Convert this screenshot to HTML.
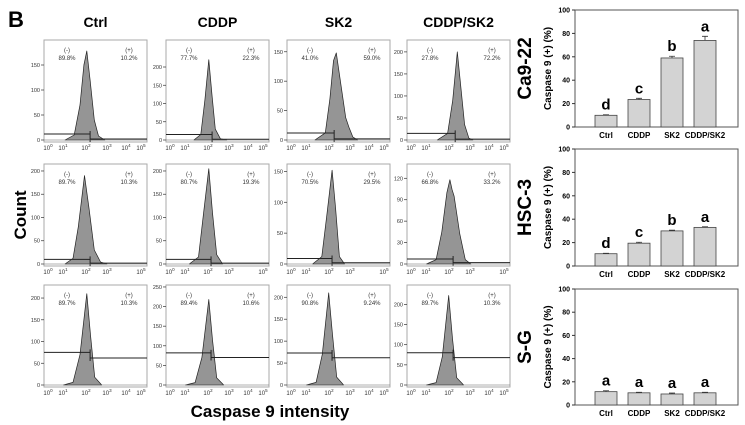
<!DOCTYPE html>
<html><head><meta charset="utf-8">
<style>
body{margin:0;background:#fff;}
svg{display:block;font-family:"Liberation Sans",sans-serif;}
</style></head>
<body>
<svg id="fig" width="745" height="425" viewBox="0 0 745 425"></svg>
<script>
// ---------- data ----------
const conditions = ["Ctrl","CDDP","SK2","CDDP/SK2"];
const cellLines = ["Ca9-22","HSC-3","S-G"];
const histYMax = [[200,274,170,227],[215,215,162,140],[230,255,228,248]];
const histTicks = [[[0,50,100,150],[0,50,100,150,200],[0,50,100,150],[0,50,100,150,200]],
 [[0,50,100,150,200],[0,50,100,150,200],[0,50,100,150],[0,30,60,90,120]],
 [[0,50,100,150,200],[0,50,100,150,200,250],[0,50,100,150,200],[0,50,100,150,200]]];
const negPct = [["89.8%","77.7%","41.0%","27.8%"],["89.7%","80.7%","70.5%","66.8%"],["89.7%","89.4%","90.8%","89.7%"]];
const posPct = [["10.2%","22.3%","59.0%","72.2%"],["10.3%","19.3%","29.5%","33.2%"],["10.3%","10.6%","9.24%","10.3%"]];
// histogram curves: [log10 intensity, count]
const histCurves = [
 [[[1.0,0],[1.4,10],[1.65,70],[1.82,150],[1.95,178],[2.1,120],[2.3,40],[2.5,8],[2.8,0]],
  [[1.3,0],[1.6,15],[1.78,110],[1.95,220],[2.1,120],[2.25,30],[2.5,3],[2.8,0]],
  [[1.3,0],[1.75,12],[1.95,70],[2.12,135],[2.25,148],[2.45,100],[2.7,38],[2.85,22],[3.05,5],[3.3,0]],
  [[1.4,0],[1.85,15],[2.08,90],[2.3,200],[2.45,130],[2.65,35],[2.85,4],[3.05,0]]],
 [[[1.0,0],[1.35,12],[1.58,80],[1.85,190],[2.05,120],[2.3,30],[2.6,4],[2.9,0]],
  [[1.1,0],[1.5,15],[1.72,110],[1.95,205],[2.12,110],[2.32,20],[2.6,0]],
  [[1.2,0],[1.6,12],[1.82,80],[2.05,152],[2.22,90],[2.4,12],[2.65,0]],
  [[0.9,0],[1.35,6],[1.6,45],[1.82,100],[1.95,118],[2.05,104],[2.15,95],[2.42,42],[2.68,6],[2.95,0]]],
 [[[0.9,0],[1.35,6],[1.65,70],[1.95,210],[2.12,115],[2.32,18],[2.65,0]],
  [[0.9,0],[1.35,6],[1.65,70],[1.95,218],[2.12,115],[2.32,18],[2.65,0]],
  [[0.9,0],[1.35,6],[1.62,70],[1.9,210],[2.07,115],[2.27,18],[2.6,0]],
  [[0.9,0],[1.35,6],[1.62,70],[1.9,222],[2.07,115],[2.27,18],[2.6,0]]]
];
const gateX = [[2.1,2.1,2.15,2.2],[2.1,2.05,2.05,2.1],[2.1,2.05,2.05,2.1]];
const gateYLeft = [[12,15,12,15],[10,10,9,7],[75,82,73,80]];
const gateYRight = [[2,2,2,2],[2,2,2,2],[62,70,62,68]];
// bar charts
const barValues = [[10,23.5,59,74],[10.5,19.5,30,33],[11.5,10.5,9.5,10.5]];
const barErrors = [[0.5,1,1.5,3.5],[0.4,0.8,0.6,0.5],[0.8,0.5,0.8,0.5]];
const barLetters = [["d","c","b","a"],["d","c","b","a"],["a","a","a","a"]];
const barTicks = [0,20,40,60,80,100];
const logTicksPos = [0,1,2,3,4,5];

// ---------- helpers ----------
const NS="http://www.w3.org/2000/svg";
const svg=document.getElementById('fig');
function mk(tag,attrs,parent,text){const e=document.createElementNS(NS,tag);for(const k in attrs)e.setAttribute(k,attrs[k]);if(text!==undefined)e.textContent=text;(parent||svg).appendChild(e);return e;}

const colX=[44,166,287,407], rowY=[40,164,285], PW=103, PH=102;
const decPx=[6,21,44,65,84,99];
function xLog(v,x0){const i=Math.max(0,Math.min(4,Math.floor(v)));const f=v-i;return x0+decPx[i]+(decPx[i+1]-decPx[i])*f;}
function yCnt(v,y0,ymax){const zero=y0+PH-2;return zero-(v/ymax)*(PH-2);}

let t=mk('text',{x:8,y:27,'font-size':22,'font-weight':'bold'},svg,"B");


t=mk('text',{x:0,y:0,'font-size':17,'font-weight':'bold','text-anchor':'middle',transform:'translate(26,215) rotate(-90)'},svg,"Count");


t=mk('text',{x:270,y:417,'font-size':17,'font-weight':'bold','text-anchor':'middle'},svg,"Caspase 9 intensity");



conditions.forEach((c,ci)=>{
  const tt=mk('text',{x:colX[ci]+PW/2,y:27,'font-size':14,'font-weight':'bold','text-anchor':'middle'},svg,c);
  
  
});

for(let r=0;r<3;r++){
  for(let c=0;c<4;c++){
    const x0=colX[c], y0=rowY[r], ymax=histYMax[r][c];
    const g=mk('g',{});
    
    
    mk('rect',{x:x0,y:y0,width:PW,height:PH,fill:'#fff',stroke:'#aaa','stroke-width':1},g);
    const pts=histCurves[r][c];
    let d='M'+xLog(pts[0][0],x0)+','+yCnt(0,y0,ymax);
    pts.forEach(p=>{d+=' L'+xLog(p[0],x0).toFixed(1)+','+yCnt(p[1],y0,ymax).toFixed(1);});
    d+=' Z';
    const cur=mk('path',{d:d,fill:'#959595',stroke:'#222','stroke-width':0.7,'stroke-linejoin':'round'},g);
    
    
    const gx=xLog(gateX[r][c],x0), yl=yCnt(gateYLeft[r][c],y0,ymax), yr=yCnt(gateYRight[r][c],y0,ymax);
    const gate=mk('path',{d:`M${x0},${yl} L${gx},${yl} M${gx},${yl-3} L${gx},${yr+3} M${gx},${yr} L${x0+PW},${yr}`,fill:'none',stroke:'#222','stroke-width':1},g);
    
    
    mk('line',{x1:x0,x2:x0+PW,y1:y0+PH-2,y2:y0+PH-2,stroke:'#666','stroke-width':0.6},g);
    histTicks[r][c].forEach(v=>{
      const yy=yCnt(v,y0,ymax);
      mk('line',{x1:x0-3,x2:x0,y1:yy,y2:yy,stroke:'#333','stroke-width':0.7},g);
      mk('text',{x:x0-4,y:yy+2,'font-size':5.5,'text-anchor':'end',fill:'#333'},g,String(v));
    });
    logTicksPos.forEach(k=>{
      if(r===1 && k===4) return;
      const xx=xLog(k,x0);
      const tx=mk('text',{x:xx-2,y:y0+PH+8,'font-size':6,'text-anchor':'middle',fill:'#333'},g,"10");
      mk('tspan',{dy:-3,'font-size':4.5},tx,String(k));
    });
    mk('text',{x:x0+23,y:y0+12,'font-size':6,'text-anchor':'middle',fill:'#333'},g,"(-)");
    mk('text',{x:x0+23,y:y0+20,'font-size':6,'text-anchor':'middle',fill:'#333'},g,negPct[r][c]);
    mk('text',{x:x0+85,y:y0+12,'font-size':6,'text-anchor':'middle',fill:'#333'},g,"(+)");
    mk('text',{x:x0+85,y:y0+20,'font-size':6,'text-anchor':'middle',fill:'#333'},g,posPct[r][c]);
  }
}

const bTop=[10,149,289], bBot=[127,266,405], bL=575, bR=738, barW=22;
function xBar(i){return bL+31+i*33;}
for(let r=0;r<3;r++){
  const g=mk('g',{});
  
  
  const yv=v=>bBot[r]-(v/100)*(bBot[r]-bTop[r]);
  mk('rect',{x:bL,y:bTop[r],width:bR-bL,height:bBot[r]-bTop[r],fill:'none',stroke:'#555','stroke-width':1},g);
  barTicks.forEach(v=>{
    mk('line',{x1:bL-3,x2:bL,y1:yv(v),y2:yv(v),stroke:'#333'},g);
    mk('text',{x:bL-5,y:yv(v)+2.5,'font-size':7,'font-weight':'bold','text-anchor':'end'},g,String(v));
  });
  const yt=mk('text',{x:0,y:0,'font-size':10,'font-weight':'bold','text-anchor':'middle',transform:`translate(551,${(bTop[r]+bBot[r])/2}) rotate(-90)`},g,"Caspase 9 (+) (%)");
  
  
  const rl=mk('text',{x:0,y:0,'font-size':19,'font-weight':'bold','text-anchor':'middle',transform:`translate(531,${(bTop[r]+bBot[r])/2}) rotate(-90)`},g,cellLines[r]);
  
  
  barValues[r].forEach((v,i)=>{
    const cx=xBar(i);
    const b=mk('rect',{x:cx-barW/2,y:yv(v),width:barW,height:bBot[r]-yv(v),fill:'#d3d3d3',stroke:'#444','stroke-width':0.8},g);
    
    
    const e=barErrors[r][i];
    mk('path',{d:`M${cx},${yv(v)} L${cx},${yv(v+e)} M${cx-3},${yv(v+e)} L${cx+3},${yv(v+e)}`,stroke:'#333','stroke-width':0.8},g);
    mk('text',{x:cx,y:yv(v+e)-5,'font-size':15,'font-weight':'bold','text-anchor':'middle'},g,barLetters[r][i]);
    mk('text',{x:cx,y:bBot[r]+11,'font-size':8,'font-weight':'bold','text-anchor':'middle'},g,conditions[i]);
  });
}
</script>
</body></html>
